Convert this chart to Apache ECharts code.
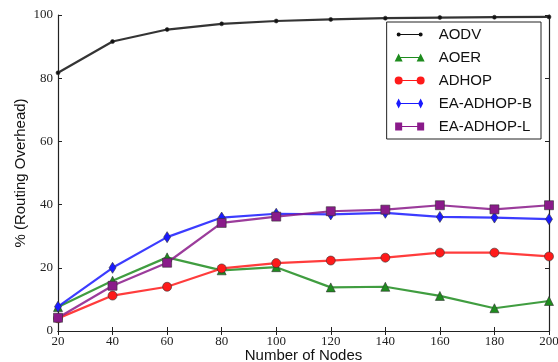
<!DOCTYPE html>
<html>
<head>
<meta charset="utf-8">
<script src="https://cdn.jsdelivr.net/npm/echarts@6/dist/echarts.min.js"></script>
<style>
  html, body { margin: 0; padding: 0; background: #fff; }
  #chart { width: 558px; height: 362px; }
</style>
</head>
<body>
<div id="chart"></div>
<script>
// number of nodes
var nodes = [20, 40, 60, 80, 100, 120, 140, 160, 180, 200]
var yTicks = [0, 20, 40, 60, 80, 100]

var aodv = [81.7, 91.6, 95.4, 97.2, 98.1, 98.6, 99.0, 99.2, 99.3, 99.4]
var aoer = [7.6, 15.9, 23.3, 19.2, 20.2, 13.8, 14.0, 11.1, 7.2, 9.5]
var adhop = [4.0, 11.2, 14.0, 19.8, 21.5, 22.3, 23.2, 24.8, 24.8, 23.6]
var eaB = [7.7, 20.0, 29.7, 35.9, 37.1, 36.9, 37.4, 36.1, 35.9, 35.4]
var eaL = [4.2, 14.3, 21.6, 34.2, 36.2, 37.9, 38.4, 39.8, 38.5, 39.8]

var myChart = echarts.init(document.getElementById('chart'))

function pairs(arr) {
  return nodes.map(function (n, i) { return [n, arr[i]] })
}

// legend icons: line with a marker on each end (like matplotlib)
var bar = 'M4,4.4 L26,4.4 L26,5.6 L4,5.6 Z '
var box = ' M0,0 L0,0.01 Z M30,10 L30,9.99 Z'
var icons = {
  dot: 'path://' + bar + 'M2,5 A2,2 0 1,1 6,5 A2,2 0 1,1 2,5 Z M24,5 A2,2 0 1,1 28,5 A2,2 0 1,1 24,5 Z' + box,
  tri: 'path://' + bar + 'M0,9 L4,1 L8,9 Z M22,9 L26,1 L30,9 Z' + box,
  circ: 'path://' + bar + 'M0,5 A4,4 0 1,1 8,5 A4,4 0 1,1 0,5 Z M22,5 A4,4 0 1,1 30,5 A4,4 0 1,1 22,5 Z' + box,
  dia: 'path://' + bar + 'M4,0 L6.5,5 L4,10 L1.5,5 Z M26,0 L28.5,5 L26,10 L23.5,5 Z' + box,
  sq: 'path://' + bar + 'M0.5,1 L7.5,1 L7.5,9 L0.5,9 Z M22.5,1 L29.5,1 L29.5,9 L22.5,9 Z' + box
}

function mkSeries(name, data, color, symbol, size) {
  return {
    name: name,
    type: 'line',
    data: pairs(data),
    symbol: symbol,
    symbolSize: size,
    lineStyle: { color: color, width: 2.2, opacity: 0.85 },
    itemStyle: { color: color, borderColor: '#333', borderWidth: 0.6 },
    emphasis: { disabled: true },
    animation: false,
    z: 3
  }
}

var serifFont = 'Liberation Serif'

var option = {
  backgroundColor: '#fff',
  grid: { left: 58, right: 9, top: 15, bottom: 31, show: false, outerBoundsMode: 'none', containLabel: false },
  legend: {
    orient: 'vertical',
    right: 17,
    top: 22,
    itemWidth: 30,
    itemHeight: 10,
    itemGap: 8,
    padding: [5, 9, 5, 8],
    borderColor: '#222',
    borderWidth: 1,
    backgroundColor: '#fff',
    itemStyle: { borderWidth: 0 },
    textStyle: { fontFamily: 'Liberation Sans', fontSize: 15, color: '#111', padding: [0, 0, 0, 9] },
    data: [
      { name: 'AODV', icon: icons.dot },
      { name: 'AOER', icon: icons.tri },
      { name: 'ADHOP', icon: icons.circ },
      { name: 'EA-ADHOP-B', icon: icons.dia },
      { name: 'EA-ADHOP-L', icon: icons.sq }
    ]
  },
  xAxis: [
    {
      type: 'value',
      min: 20, max: 200, interval: 20,
      name: 'Number of Nodes',
      nameLocation: 'middle',
      nameGap: 17,
      nameMoveOverlap: false,
      nameTextStyle: { fontFamily: 'Liberation Sans', fontSize: 15, color: '#111' },
      axisLine: { lineStyle: { color: '#222', width: 1.2 } },
      axisTick: { inside: true, length: 4, lineStyle: { color: '#222' } },
      axisLabel: { fontFamily: serifFont, fontSize: 13, color: '#222', margin: 4 },
      splitLine: { show: false }
    },
    {
      type: 'value',
      position: 'top',
      min: 20, max: 200, interval: 20,
      axisLine: { lineStyle: { color: '#222', width: 1.2 } },
      axisTick: { inside: true, length: 4, lineStyle: { color: '#222' } },
      axisLabel: { show: false },
      splitLine: { show: false }
    }
  ],
  yAxis: [
    {
      type: 'value',
      min: 0, max: 100, interval: 20,
      name: '% (Routing Overhead)',
      nameLocation: 'middle',
      nameGap: 30,
      nameMoveOverlap: false,
      nameTextStyle: { fontFamily: 'Liberation Sans', fontSize: 15, color: '#111' },
      axisLine: { show: true, lineStyle: { color: '#222', width: 1.2 } },
      axisTick: { show: true, inside: true, length: 4, lineStyle: { color: '#222' } },
      axisLabel: {
        fontFamily: serifFont, fontSize: 13, color: '#222', margin: 5,
        formatter: function (v) { return yTicks.indexOf(v) >= 0 ? String(v) : '' }
      },
      splitLine: { show: false }
    },
    {
      type: 'value',
      position: 'right',
      min: 0, max: 100, interval: 20,
      axisLine: { show: true, lineStyle: { color: '#222', width: 1.2 } },
      axisTick: { show: true, inside: true, length: 4, lineStyle: { color: '#222' } },
      axisLabel: { show: false },
      splitLine: { show: false }
    }
  ],
  series: [
    mkSeries('AODV', aodv, '#111111', 'circle', 4),
    mkSeries('AOER', aoer, '#1e8c1e', 'triangle', 9),
    mkSeries('ADHOP', adhop, '#ff1a1a', 'circle', 9),
    mkSeries('EA-ADHOP-B', eaB, '#1a1aff', 'diamond', [7, 11]),
    mkSeries('EA-ADHOP-L', eaL, '#8a1a8a', 'rect', 9)
  ]
}

myChart.setOption(option, true)
</script>
</body>
</html>
